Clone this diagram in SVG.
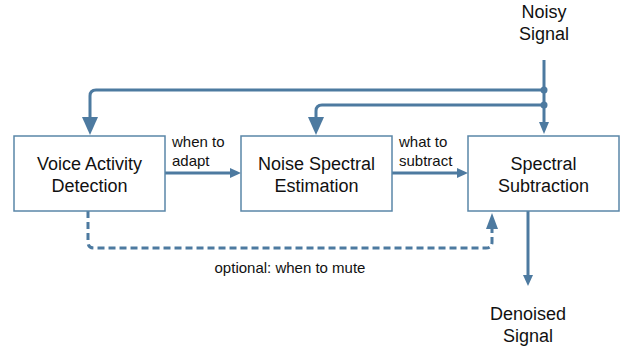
<svg xmlns="http://www.w3.org/2000/svg" width="622" height="348" viewBox="0 0 622 348">
<style>
.box{fill:#fff;stroke:#5a86a8;stroke-width:1.5}
.ln{fill:none;stroke:#4d7aa0;stroke-width:3}
.dash{fill:none;stroke:#4d7aa0;stroke-width:3;stroke-dasharray:7 4}
.hd{fill:#4d7aa0}
.t{font-family:"Liberation Sans",Arial,sans-serif;font-size:18px;fill:#111;text-anchor:middle}
.s{font-family:"Liberation Sans",Arial,sans-serif;font-size:15px;fill:#111}
</style>
<g id="connectors">
<path class="ln" d="M544 60 V124"/>
<path class="hd" d="M539 122 L549 122 L544 134 Z"/>
<path class="ln" d="M544 90 H96 Q90 90 90 96 V118"/>
<path class="hd" d="M82 117 L98 117 L90 135 Z"/>
<path class="ln" d="M544 105 H322 Q316 105 316 111 V118"/>
<path class="hd" d="M308 117 L324 117 L316 135 Z"/>
<circle class="hd" cx="544" cy="90" r="3.5"/>
<circle class="hd" cx="544" cy="105" r="3.5"/>
<path class="ln" d="M165 173 H232"/>
<path class="hd" d="M230 168 L241 173 L230 178 Z"/>
<path class="ln" d="M392 173 H459"/>
<path class="hd" d="M457 168 L468 173 L457 178 Z"/>
<path class="dash" d="M88 211 V242 Q88 248 94 248 H486 Q492 248 492 242 V228"/>
<path class="hd" d="M486 229 L498 229 L492 213 Z"/>
<path class="ln" d="M528 211 V276"/>
<path class="hd" d="M523 275 L533 275 L528 286 Z"/>
</g>
<g id="vad">
<rect class="box" x="14" y="136" width="151" height="75"/>
<text class="t" x="89.5" y="170">Voice Activity</text>
<text class="t" x="89.5" y="192">Detection</text>
</g>
<g id="nse">
<rect class="box" x="241" y="136" width="151" height="75"/>
<text class="t" x="316.5" y="170">Noise Spectral</text>
<text class="t" x="316.5" y="192">Estimation</text>
</g>
<g id="ss">
<rect class="box" x="468" y="136" width="151" height="75"/>
<text class="t" x="543.5" y="170">Spectral</text>
<text class="t" x="543.5" y="192">Subtraction</text>
</g>
<g id="labels">
<text class="s" x="172" y="147">when to</text>
<text class="s" x="172" y="166">adapt</text>
<text class="s" x="399" y="147">what to</text>
<text class="s" x="399" y="166">subtract</text>
<text class="s" x="290" y="273" text-anchor="middle">optional: when to mute</text>
<text class="t" x="544" y="18">Noisy</text>
<text class="t" x="544" y="40">Signal</text>
<text class="t" x="528" y="320">Denoised</text>
<text class="t" x="528" y="342">Signal</text>
</g>
</svg>
